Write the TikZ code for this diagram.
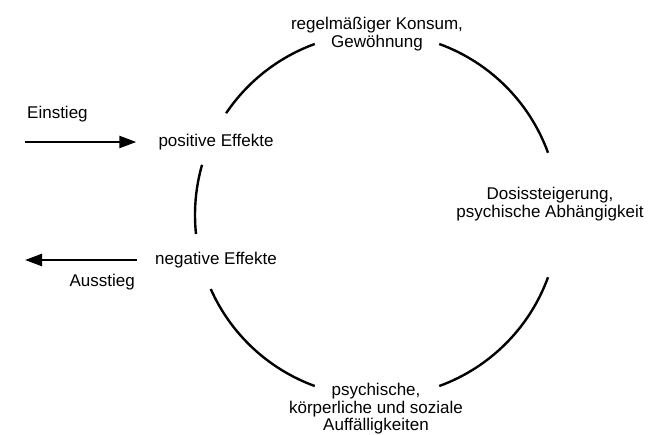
\documentclass[tikz,border=0pt]{standalone}
\usepackage{fontspec}
\setmainfont{Liberation Sans}
\usetikzlibrary{arrows.meta,positioning}

\begin{document}
\begin{tikzpicture}[x=1pt, y=1pt, line width=2.4pt,
    every node/.style={font=\fontsize{17}{17.5}\selectfont, align=center, inner sep=0pt},
    flow/.style={-{Triangle[length=17pt,width=12pt]}}]
    \useasboundingbox (0,0) rectangle (648,434);
    \coordinate (M) at (377,219);

    \node (K) at (377,400) {regelmäßiger Konsum,\\Gewöhnung};
    \node (D) at (550,230) {Dosissteigerung,\\psychische Abhängigkeit};
    \node (A) at (376,25) {psychische,\\körperliche und soziale\\Auffälligkeiten};
    \node (P) at (216,292) {positive Effekte};
    \node (N) at (216,174) {negative Effekte};

    \coordinate (in) at (25,292);
    \coordinate (out) at (25,174);
    \node (ein) [anchor=west] at (26,320) {Einstieg};
    \node (aus) [anchor=east] at (136,152) {Ausstieg};

    % the cycle
    \foreach \a/\b in {20/70, 110/146, 164/186, 204/250, 290/340}
        \draw ([shift={(\a:182)}]M) arc[start angle=\a, end angle=\b, radius=182];

    \draw[flow, shorten >=21pt] (in) -- (P.west);
    \draw[flow, shorten <=17pt] (N.west) -- (out);
\end{tikzpicture}
\end{document}
